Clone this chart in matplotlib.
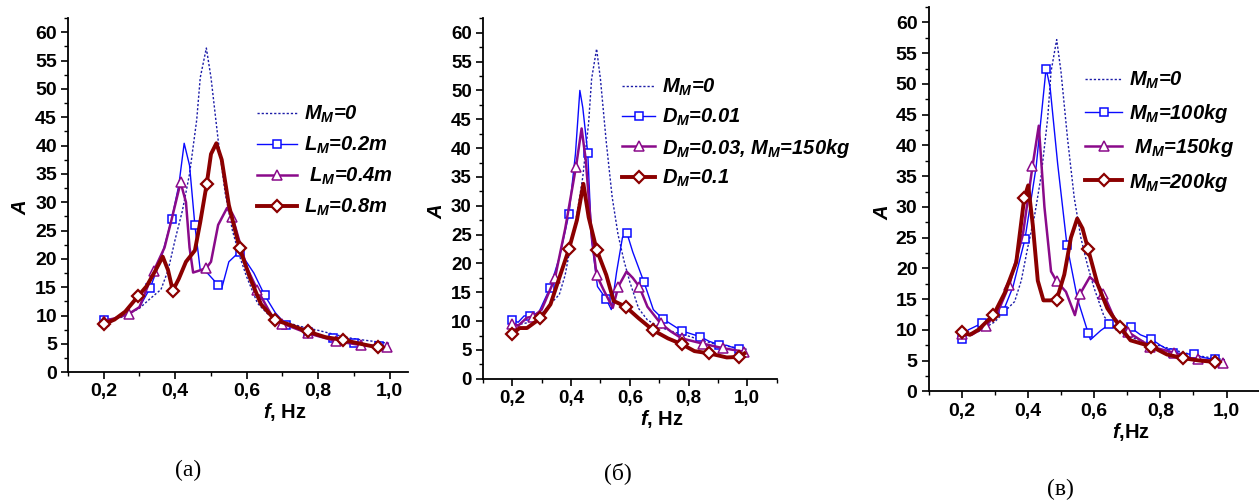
import numpy as np
import matplotlib.pyplot as plt
from matplotlib.ticker import MultipleLocator

plt.rcParams['font.family'] = 'Liberation Sans'
plt.rcParams['mathtext.fontset'] = 'custom'
plt.rcParams['mathtext.it'] = 'Liberation Sans:italic:bold'
plt.rcParams['mathtext.rm'] = 'Liberation Sans:bold'
plt.rcParams['mathtext.default'] = 'it'

# reference curve M_M=0 (same on all three panels)
f_ref = [0.20, 0.25, 0.30, 0.33, 0.36, 0.38, 0.40, 0.42, 0.44, 0.46, 0.47, 0.487,
         0.50, 0.52, 0.54, 0.56, 0.58, 0.60, 0.63, 0.66, 0.70, 0.75, 0.80, 0.85,
         0.90, 0.95, 1.00]
A_ref = [9.2, 9.7, 11.3, 13.0, 14.6, 18.0, 23.5, 28.5, 35.0, 44.5, 52.0, 57.2,
         52.0, 41.0, 31.5, 25.0, 20.5, 16.8, 12.2, 10.2, 9.0, 8.1, 7.4, 6.6,
         5.9, 5.5, 5.1]

# (a) L_M = 0.2 m
f_a1 = [0.20, 0.22, 0.24, 0.27, 0.30, 0.33, 0.36, 0.39, 0.41, 0.425, 0.44, 0.455,
        0.47, 0.49, 0.52, 0.53, 0.55, 0.58, 0.62, 0.65, 0.68, 0.71, 0.77, 0.84,
        0.90, 0.97]
A_a1 = [9.3, 8.8, 9.8, 10.3, 11.5, 14.9, 20.0, 27.0, 33.0, 40.4, 36.5, 25.9,
        18.0, 17.5, 15.4, 14.8, 19.5, 21.3, 17.5, 13.6, 10.5, 8.4, 7.1, 6.0,
        5.2, 4.6]
mk_a1 = [0.20, 0.33, 0.39, 0.455, 0.52, 0.58, 0.65, 0.71, 0.77, 0.84, 0.90, 0.97]

# (a) L_M = 0.4 m
f_a2 = [0.20, 0.23, 0.27, 0.30, 0.34, 0.37, 0.39, 0.415, 0.43, 0.44, 0.45, 0.47,
        0.487, 0.50, 0.52, 0.545, 0.56, 0.58, 0.60, 0.63, 0.67, 0.70, 0.77, 0.85,
        0.92, 0.993]
A_a2 = [9.1, 9.5, 10.3, 11.5, 17.9, 22.0, 27.0, 33.5, 30.0, 22.0, 17.6, 18.0,
        18.4, 19.5, 26.0, 29.0, 27.4, 23.0, 18.5, 14.5, 10.0, 8.6, 6.9, 5.5,
        4.8, 4.4]
mk_a2 = [0.20, 0.27, 0.34, 0.415, 0.487, 0.56, 0.63, 0.70, 0.77, 0.85, 0.92, 0.993]

# (a) L_M = 0.8 m
f_a3 = [0.20, 0.23, 0.26, 0.297, 0.32, 0.345, 0.365, 0.38, 0.393, 0.41, 0.43,
        0.455, 0.47, 0.488, 0.50, 0.515, 0.53, 0.55, 0.58, 0.61, 0.64, 0.68,
        0.72, 0.77, 0.82, 0.87, 0.92, 0.966]
A_a3 = [8.5, 9.3, 10.7, 13.5, 15.2, 18.0, 20.4, 18.0, 14.4, 16.5, 19.5,
        21.5, 26.5, 33.2, 38.5, 40.4, 37.5, 29.5, 21.9, 16.5, 12.0, 9.2,
        8.4, 7.2, 6.2, 5.7, 5.0, 4.4]
mk_a3 = [0.20, 0.297, 0.393, 0.488, 0.58, 0.68, 0.77, 0.87, 0.966]

# (b) D_M = 0.01
f_b1 = [0.20, 0.22, 0.24, 0.26, 0.29, 0.328, 0.36, 0.393, 0.415, 0.43, 0.44, 0.457,
        0.47, 0.49, 0.52, 0.537, 0.555, 0.575, 0.59, 0.61, 0.648, 0.68, 0.712,
        0.777, 0.84, 0.87, 0.905, 0.93, 0.97]
A_b1 = [10.2, 9.8, 10.9, 10.9, 11.5, 15.7, 21.0, 28.6, 39.0, 50.0, 47.0, 39.1,
        24.0, 16.0, 13.8, 12.0, 18.5, 24.5, 25.3, 22.0, 16.8, 12.0, 10.4,
        8.3, 7.3, 6.5, 5.9, 5.8, 5.1]
mk_b1 = [0.20, 0.26, 0.328, 0.393, 0.457, 0.52, 0.59, 0.648, 0.712, 0.777, 0.84,
         0.905, 0.97]

# (b) D_M = 0.03, M_M = 150 kg
f_b2 = [0.20, 0.22, 0.25, 0.272, 0.30, 0.345, 0.38, 0.417, 0.436, 0.45, 0.47,
        0.487, 0.51, 0.525, 0.542, 0.561, 0.589, 0.61, 0.632, 0.66, 0.705, 0.74,
        0.777, 0.848, 0.918, 0.99]
A_b2 = [9.5, 9.2, 10.6, 10.8, 12.0, 17.4, 26.0, 36.8, 43.4, 38.0, 25.0,
        18.0, 15.5, 14.0, 12.3, 16.0, 18.6, 17.5, 16.0, 12.5, 9.6, 8.2,
        7.0, 6.1, 5.3, 4.7]
mk_b2 = [0.20, 0.272, 0.345, 0.417, 0.487, 0.561, 0.632, 0.705, 0.777, 0.848,
         0.918, 0.99]

# (b) D_M = 0.1
f_b3 = [0.20, 0.225, 0.25, 0.296, 0.33, 0.36, 0.393, 0.42, 0.442, 0.46, 0.487,
        0.52, 0.545, 0.586, 0.63, 0.68, 0.73, 0.777, 0.82, 0.871, 0.93, 0.97, 0.99]
A_b3 = [7.8, 8.8, 8.8, 10.5, 12.9, 17.5, 22.5, 27.5, 33.8, 28.0, 22.4,
        18.0, 13.5, 12.5, 10.5, 8.4, 7.0, 6.0, 4.8, 4.4, 3.7, 3.8, 4.4]
mk_b3 = [0.20, 0.296, 0.393, 0.487, 0.586, 0.68, 0.777, 0.871, 0.97]

# (c) M_M = 100 kg
f_c1 = [0.20, 0.22, 0.262, 0.30, 0.326, 0.355, 0.391, 0.425, 0.455, 0.467, 0.49,
        0.518, 0.55, 0.582, 0.589, 0.62, 0.646, 0.68, 0.71, 0.74, 0.773, 0.80,
        0.839, 0.902, 0.93, 0.965]
A_c1 = [8.5, 10.0, 11.1, 12.5, 13.1, 17.0, 24.7, 36.5, 52.5, 49.5, 37.0,
        23.8, 15.0, 9.5, 8.4, 9.9, 10.9, 10.5, 10.4, 9.2, 8.5, 7.5,
        6.3, 6.0, 5.5, 5.2]
mk_c1 = [0.20, 0.262, 0.326, 0.391, 0.455, 0.518, 0.582, 0.646, 0.71, 0.773,
         0.839, 0.902, 0.965]

# (c) M_M = 150 kg
f_c2 = [0.20, 0.23, 0.273, 0.31, 0.344, 0.385, 0.414, 0.433, 0.45, 0.47, 0.487,
        0.515, 0.542, 0.557, 0.587, 0.61, 0.628, 0.66, 0.701, 0.77, 0.841, 0.88,
        0.914, 0.95, 0.988]
A_c2 = [9.4, 9.2, 10.6, 13.0, 17.3, 25.5, 36.6, 43.2, 30.0, 19.5, 17.9,
        16.2, 12.4, 15.8, 18.6, 17.5, 15.9, 12.0, 9.7, 7.3, 6.3, 5.5,
        5.2, 5.0, 4.6]
mk_c2 = [0.20, 0.273, 0.344, 0.414, 0.487, 0.557, 0.628, 0.701, 0.77, 0.841,
         0.914, 0.988]

# (c) M_M = 200 kg
f_c3 = [0.20, 0.225, 0.25, 0.296, 0.33, 0.365, 0.389, 0.401, 0.415, 0.43, 0.447,
        0.467, 0.487, 0.51, 0.53, 0.549, 0.565, 0.582, 0.61, 0.64, 0.678, 0.71,
        0.773, 0.82, 0.869, 0.92, 0.965]
A_c3 = [9.6, 9.2, 10.0, 12.4, 16.0, 21.0, 31.4, 33.5, 27.0, 18.0, 14.8,
        14.8, 14.9, 19.0, 25.0, 28.1, 26.5, 23.1, 17.5, 13.5, 10.5, 8.3,
        7.3, 6.0, 5.4, 5.0, 4.8]
mk_c3 = [0.20, 0.296, 0.389, 0.487, 0.582, 0.678, 0.773, 0.869, 0.965]

labels_a = [r'$M_M$=0', r'$L_M$=0.2m', r' $L_M$=0.4m', r'$L_M$=0.8m']
labels_b = [r'$M_M$=0', r'$D_M$=0.01', r'$D_M$=0.03, $M_M$=150kg', r'$D_M$=0.1']
labels_c = [r'$M_M$=0', r'$M_M$=100kg', r' $M_M$=150kg', r'$M_M$=200kg']

xtick_vals = [0.2, 0.4, 0.6, 0.8, 1.0]
xtick_labels = ['0,2', '0,4', '0,6', '0,8', '1,0']

W, H = 1259, 503
fig = plt.figure(figsize=(W / 100, H / 100), dpi=100)


def marks(f, mk):
    f = np.array(f)
    return [int(np.argmin(np.abs(f - m))) for m in mk]


def panel(rect, xmax, series, labels, leg_xy, leg_hl, leg_sp, tsize):
    ax = fig.add_axes(rect)
    ax.plot(f_ref, A_ref, color='#1c1ca8', lw=1.0, dashes=(1.6, 1.4), label=labels[0])
    (f1, A1, m1), (f2, A2, m2), (f3, A3, m3) = series
    ax.plot(f1, A1, color='#0a0aff', lw=1.0, marker='s', ms=5.2, mfc='white',
            mec='#0a0aff', mew=1.1, markevery=marks(f1, m1), label=labels[1])
    ax.plot(f2, A2, color='#8a0a8a', lw=1.8, marker='^', ms=6.5, mfc='white',
            mec='#8a0a8a', mew=1.1, markevery=marks(f2, m2), label=labels[2])
    ax.plot(f3, A3, color='#8b0000', lw=2.8, marker='D', ms=5.8, mfc='white',
            mec='#8b0000', mew=1.6, markevery=marks(f3, m3), label=labels[3])
    ax.set_xlim(0.1, xmax)
    ax.set_ylim(0, 62.5)
    ax.set_xticks(xtick_vals)
    ax.set_xticklabels(xtick_labels)
    ax.xaxis.set_minor_locator(MultipleLocator(0.1))
    ax.set_yticks(range(0, 61, 5))
    ax.yaxis.set_minor_locator(MultipleLocator(2.5))
    ax.tick_params(which='major', direction='out', length=5, width=1.2,
                   labelsize=tsize, pad=3)
    ax.tick_params(which='minor', direction='out', length=3, width=1.0)
    for t in ax.get_xticklabels() + ax.get_yticklabels():
        t.set_fontweight('bold')
    for s in ['top', 'right']:
        ax.spines[s].set_visible(False)
    for s in ['left', 'bottom']:
        ax.spines[s].set_linewidth(1.3)
    ax.legend(loc='upper left', bbox_to_anchor=(leg_xy[0] / W, 1 - leg_xy[1] / H),
              bbox_transform=fig.transFigure, frameon=False, borderpad=0,
              borderaxespad=0, handlelength=leg_hl, handletextpad=0.35,
              labelspacing=leg_sp,
              prop={'family': 'Liberation Sans', 'weight': 'bold',
                    'style': 'italic', 'size': 14.5})
    return ax


def rect(x0, x1, ytop, ybot):
    return [x0 / W, 1 - ybot / H, (x1 - x0) / W, (ybot - ytop) / H]


panel(rect(68, 407.6, 18, 372.3), 1.05,
      [(f_a1, A_a1, mk_a1), (f_a2, A_a2, mk_a2), (f_a3, A_a3, mk_a3)],
      labels_a, (257, 104), 2.0, 0.48, 14)
panel(rect(482.9, 776.7, 18.3, 378.8), 1.1,
      [(f_b1, A_b1, mk_b1), (f_b2, A_b2, mk_b2), (f_b3, A_b3, mk_b3)],
      labels_b, (622, 77), 1.65, 0.42, 13.5)
panel(rect(928.5, 1259.7, 7, 391.4), 1.1,
      [(f_c1, A_c1, mk_c1), (f_c2, A_c2, mk_c2), (f_c3, A_c3, mk_c3)],
      labels_c, (1085, 70), 1.85, 0.55, 14)

lab = dict(fontsize=14.5, fontweight='bold', ha='center', va='center')
fig.text(20 / W, 1 - 207 / H, r'$A$', rotation=90, **lab)
fig.text(437 / W, 1 - 211 / H, r'$A$', rotation=90, **lab)
fig.text(882 / W, 1 - 212 / H, r'$A$', rotation=90, **lab)
fig.text(285 / W, 1 - 412 / H, r'$f$, Hz', **lab)
fig.text(662 / W, 1 - 419 / H, r'$f$, Hz', **lab)
fig.text(1131 / W, 1 - 432 / H, r'$f$,Hz', **lab)

cap = dict(fontsize=17, family='Liberation Serif', ha='center', va='center')
fig.text(188 / W, 1 - 470 / H, '(a)', **cap)
fig.text(618 / W, 1 - 473 / H, '(б)', **cap)
fig.text(1060 / W, 1 - 489 / H, '(в)', **cap)

fig.savefig('out.png', dpi=100)
